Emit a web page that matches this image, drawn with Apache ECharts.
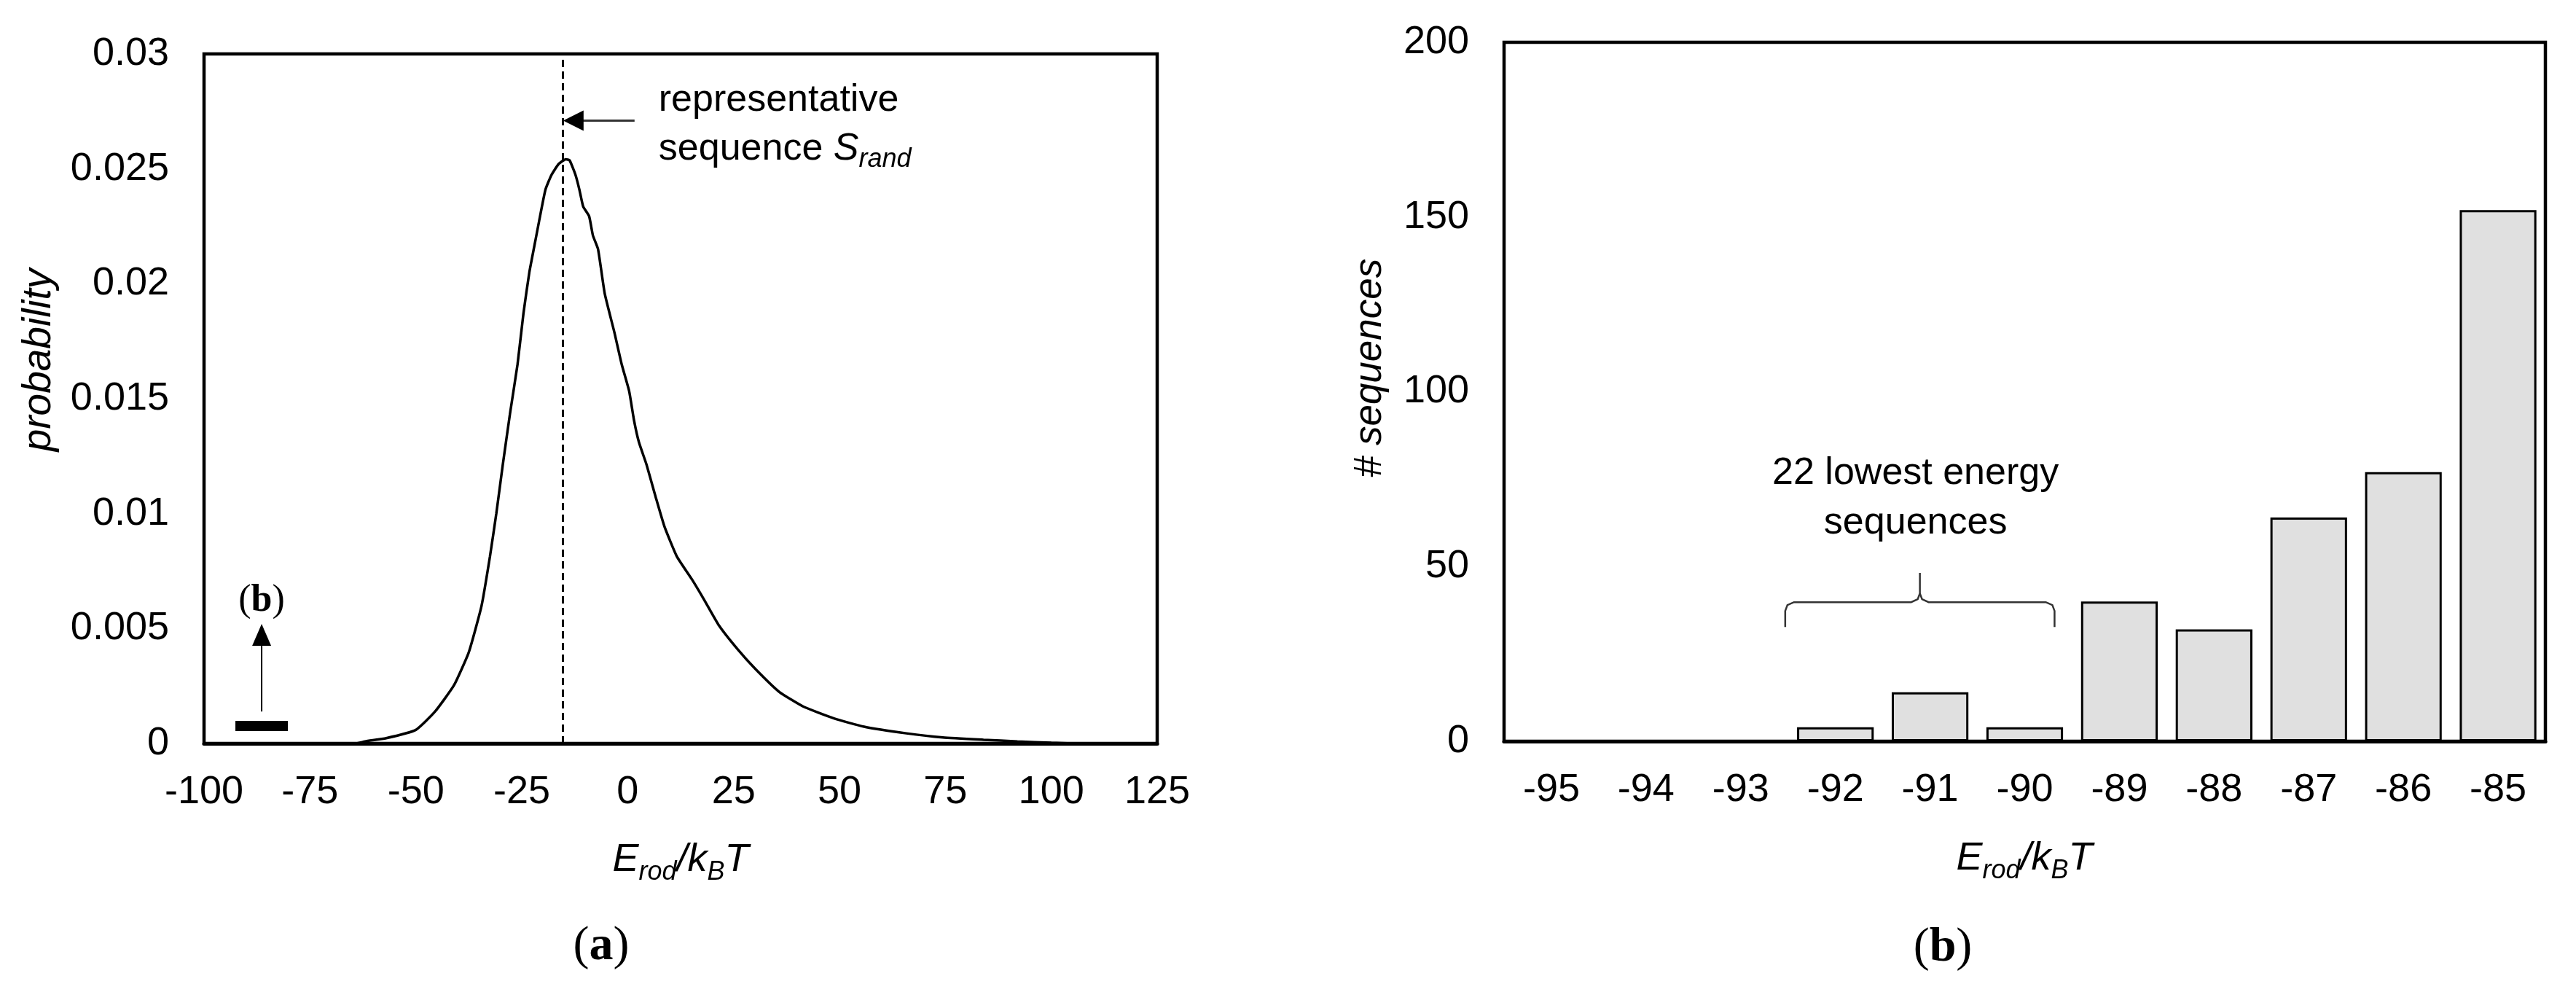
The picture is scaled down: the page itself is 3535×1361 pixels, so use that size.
<!DOCTYPE html>
<html lang="en">
<head>
<meta charset="utf-8" />
<title>Rod energy distribution</title>
<script src="https://cdn.jsdelivr.net/npm/echarts@6.0.0/dist/echarts.min.js" type="text/javascript"></script>
<style>
  html, body { margin: 0; padding: 0; background: #fff; }
  #main { width: 3535px; height: 1361px; }
</style>
</head>
<body>
<div id="main"></div>
<script type="text/javascript">
// (a) probability of E_rod/k_BT
var energy = [-64, -62, -57, -50, -45.5, -41, -37.5, -34.5, -32.5, -31, -29.5, -27.75, -26, -24.6, -23.2,
  -22, -20.9, -19.4, -18, -16.3, -14.6, -13.7, -12.3, -11.4, -10.5, -9.1, -8.2, -7, -5.4, -3.1,
  -1.4, 0.35, 1.5, 2.65, 4.4, 6.6, 8.7, 11.6, 15.2, 18, 21.6, 25.9, 30.1, 35.8, 41.5,
  48.7, 55.8, 65.8, 74.4, 84, 92, 100, 105];
var probability = [0, 0.00009, 0.00023, 0.00059, 0.00138, 0.00253, 0.00397, 0.00598, 0.00814, 0.01001, 0.0121, 0.01438, 0.01649, 0.01871, 0.02051,
  0.02167, 0.02273, 0.0241, 0.02473, 0.02521, 0.02542, 0.02537, 0.02473, 0.0241, 0.02336, 0.02294, 0.0221, 0.02151, 0.01956, 0.01786,
  0.01649, 0.01533, 0.01406, 0.01311, 0.01216, 0.01073, 0.00943, 0.00814, 0.00713, 0.00627, 0.00512, 0.00411, 0.00325, 0.00224, 0.0016,
  0.00109, 0.00073, 0.00044, 0.00026, 0.00016, 0.00009, 0.00003, 0];
var repEnergy = -15.4; // representative sequence S_rand

// (b) histogram of the lowest energy sequences
var binLabels = ['-95', '-94', '-93', '-92', '-91', '-90', '-89', '-88', '-87', '-86', '-85'];
var binCounts = [0, 0, 0, 4, 14, 4, 40, 32, 64, 77, 152];

var SANS = "'Liberation Sans', Arial, sans-serif";
var SERIF = "'Liberation Serif', 'Times New Roman', serif";

var chart = echarts.init(document.getElementById('main'));

function tickLabel(extra) {
  return Object.assign({ color: '#000', fontSize: 54, fontFamily: SANS }, extra);
}

var option = {
  backgroundColor: '#fff',
  animation: false,
  grid: [
    { left: 280, top: 74, width: 1308, height: 946, show: true, borderColor: '#000', borderWidth: 4.5 },
    { left: 2064, top: 58, width: 1429, height: 959, show: true, borderColor: '#000', borderWidth: 4.5 }
  ],
  xAxis: [
    {
      gridIndex: 0, type: 'value', min: -100, max: 125, interval: 25,
      axisLine: { show: true, onZero: false, lineStyle: { color: '#000', width: 5 } },
      axisTick: { show: false }, splitLine: { show: false },
      axisLabel: tickLabel({ margin: 40 })
    },
    {
      gridIndex: 1, type: 'category', data: binLabels,
      axisLine: { show: true, onZero: false, lineStyle: { color: '#000', width: 5 } },
      axisTick: { show: false }, splitLine: { show: false },
      axisLabel: tickLabel({ margin: 40, interval: 0 })
    }
  ],
  yAxis: [
    {
      gridIndex: 0, type: 'value', min: 0, max: 0.03, interval: 0.005,
      axisLine: { show: false }, axisTick: { show: false }, splitLine: { show: false },
      axisLabel: tickLabel({ margin: 48, formatter: function (v) { return String(+v.toFixed(3)); } })
    },
    {
      gridIndex: 1, type: 'value', min: 0, max: 200, interval: 50,
      axisLine: { show: false }, axisTick: { show: false }, splitLine: { show: false },
      axisLabel: tickLabel({ margin: 48 })
    }
  ],
  series: [
    {
      type: 'line', xAxisIndex: 0, yAxisIndex: 0,
      data: energy.map(function (e, i) { return [e, probability[i]]; }),
      showSymbol: false, smooth: 0.15,
      lineStyle: { color: '#000', width: 3.5 },
      markLine: {
        silent: true, symbol: ['none', 'none'], label: { show: false },
        lineStyle: { color: '#000', width: 3, type: [10, 6] },
        data: [{ xAxis: repEnergy }]
      }
    },
    {
      type: 'bar', xAxisIndex: 1, yAxisIndex: 1, data: binCounts,
      barCategoryGap: '19%',
      itemStyle: { color: '#e0e0e0', borderColor: '#000', borderWidth: 3 }
    }
  ]
};
chart.setOption(option);

// annotations, placed through the axes
var A = { xAxisIndex: 0, yAxisIndex: 0 };
var B = { xAxisIndex: 1, yAxisIndex: 1 };
var tip = chart.convertToPixel(A, [repEnergy, 0.0271]);
var barL = chart.convertToPixel(A, [-92.6, 0.00098]);
var barR = chart.convertToPixel(A, [-80.2, 0.00054]);
var up0 = chart.convertToPixel(A, [-86.4, 0.00139]);
var up1 = chart.convertToPixel(A, [-86.4, 0.0052]);
var bLbl = chart.convertToPixel(A, [-86.4, 0.0062]);

var band = 1429 / binLabels.length;
var c3 = chart.convertToPixel(B, [3, 39.8]);
var c5 = chart.convertToPixel(B, [5, 32.7]);
var c4 = chart.convertToPixel(B, [4, 48.2]);
var bL = c3[0] - 0.53 * band, bR = c5[0] + 0.315 * band, bP = (bL + bR) / 2;
var yH = c3[1], yEnd = c5[1], yPeak = c4[1];
var r = 12;

var subRich = {
  i: { fontSize: 54, fontFamily: SANS, fontStyle: 'italic', lineHeight: 70, fill: '#000' },
  s: { fontSize: 36, fontFamily: SANS, fontStyle: 'italic', lineHeight: 46, verticalAlign: 'bottom', fill: '#000' }
};
var panelRich = function (size) {
  return {
    p: { fontSize: size, fontFamily: SERIF, fill: '#000' },
    b: { fontSize: size, fontFamily: SERIF, fontWeight: 'bold', fill: '#000' }
  };
};

chart.setOption({
  graphic: [
    // arrow pointing at the representative sequence
    { type: 'line', shape: { x1: tip[0] + 27, y1: tip[1], x2: tip[0] + 99, y2: tip[1] }, style: { stroke: '#333', lineWidth: 3 } },
    { type: 'polygon', shape: { points: [[tip[0] + 1, tip[1]], [tip[0] + 29, tip[1] - 14], [tip[0] + 29, tip[1] + 14]] }, style: { fill: '#000' } },
    { type: 'text', x: tip[0] + 132, y: tip[1] - 28, style: { text: 'representative', font: '52px ' + SANS, fill: '#000', align: 'left', verticalAlign: 'middle' } },
    {
      type: 'text', x: tip[0] + 132, y: tip[1] + 39,
      style: {
        text: '{n|sequence }{i|S}{s|rand}', align: 'left', verticalAlign: 'middle',
        rich: {
          n: { fontSize: 52, fontFamily: SANS, lineHeight: 66, fill: '#000' },
          i: { fontSize: 52, fontFamily: SANS, fontStyle: 'italic', lineHeight: 66, fill: '#000' },
          s: { fontSize: 36, fontFamily: SANS, fontStyle: 'italic', lineHeight: 44, verticalAlign: 'bottom', fill: '#000' }
        }
      }
    },
    // (b) marker in panel (a)
    { type: 'rect', shape: { x: barL[0], y: barL[1], width: barR[0] - barL[0], height: barR[1] - barL[1] }, style: { fill: '#000' } },
    { type: 'line', shape: { x1: up0[0], y1: up0[1], x2: up1[0], y2: up1[1] + 28 }, style: { stroke: '#000', lineWidth: 2 } },
    { type: 'polygon', shape: { points: [[up1[0], up1[1]], [up1[0] - 13, up1[1] + 30], [up1[0] + 13, up1[1] + 30]] }, style: { fill: '#000' } },
    { type: 'text', x: bLbl[0], y: bLbl[1], style: { text: '{p|(}{b|b}{p|)}', align: 'center', verticalAlign: 'middle', rich: panelRich(52) } },
    // brace over the 22 lowest energy sequences
    {
      type: 'polyline',
      shape: { points: [[bL, yEnd], [bL, yH + r], [bL + 3, yH + 4], [bL + r, yH], [bP - r, yH], [bP - 3, yH - 4], [bP, yH - r], [bP, yPeak]] },
      style: { stroke: '#333', lineWidth: 2.5, fill: null }
    },
    {
      type: 'polyline',
      shape: { points: [[bR, yEnd], [bR, yH + r], [bR - 3, yH + 4], [bR - r, yH], [bP + r, yH], [bP + 3, yH - 4], [bP, yH - r]] },
      style: { stroke: '#333', lineWidth: 2.5, fill: null }
    },
    { type: 'text', x: bP - 6, y: 650, style: { text: '22 lowest energy', font: '52px ' + SANS, fill: '#000', align: 'center', verticalAlign: 'middle' } },
    { type: 'text', x: bP - 6, y: 718, style: { text: 'sequences', font: '52px ' + SANS, fill: '#000', align: 'center', verticalAlign: 'middle' } },
    // axis titles
    { type: 'text', x: 934, y: 1180, style: { text: '{i|E}{s|rod}{i|/k}{s|B}{i|T}', align: 'center', verticalAlign: 'middle', rich: subRich } },
    { type: 'text', x: 2778, y: 1178, style: { text: '{i|E}{s|rod}{i|/k}{s|B}{i|T}', align: 'center', verticalAlign: 'middle', rich: subRich } },
    { type: 'text', x: 54, y: 494, rotation: Math.PI / 2, style: { text: 'probability', font: 'italic 55px ' + SANS, fill: '#000', align: 'center', verticalAlign: 'middle' } },
    { type: 'text', x: 1880, y: 505, rotation: Math.PI / 2, style: { text: '# sequences', font: 'italic 53px ' + SANS, fill: '#000', align: 'center', verticalAlign: 'middle' } },
    // panel labels
    { type: 'text', x: 825, y: 1299, style: { text: '{p|(}{b|a}{p|)}', align: 'center', verticalAlign: 'middle', rich: panelRich(66) } },
    { type: 'text', x: 2666, y: 1301, style: { text: '{p|(}{b|b}{p|)}', align: 'center', verticalAlign: 'middle', rich: panelRich(66) } }
  ]
});
</script>
</body>
</html>
